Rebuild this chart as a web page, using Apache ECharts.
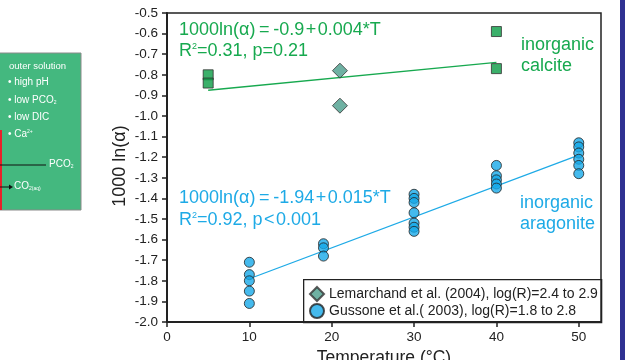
<!DOCTYPE html>
<html><head><meta charset="utf-8">
<script src="https://cdn.jsdelivr.net/npm/echarts@6/dist/echarts.min.js"></script>
<style>html,body{margin:0;padding:0;background:#fff}#c{width:627px;height:360px}</style>
</head><body><div id="c"></div>
<script>
// ---- data ----
const yTicks = [-2.0,-1.9,-1.8,-1.7,-1.6,-1.5,-1.4,-1.3,-1.2,-1.1,-1.0,-0.9,-0.8,-0.7,-0.6,-0.5];
const xTicks = [0,10,20,30,40,50];
const calciteT = [5,5,40,40];
const calciteV = [-0.80,-0.84,-0.59,-0.77];
const lemarchandT = [21,21];
const lemarchandV = [-0.78,-0.95];
const gussoneT = [10,10,10,10,10, 19,19,19, 30,30,30,30,30,30,30, 40,40,40,40,40, 50,50,50,50,50,50];
const gussoneV = [-1.71,-1.77,-1.80,-1.85,-1.91, -1.62,-1.64,-1.68, -1.38,-1.40,-1.42,-1.47,-1.52,-1.54,-1.56, -1.24,-1.29,-1.31,-1.33,-1.35, -1.13,-1.15,-1.18,-1.21,-1.24,-1.28];
const calciteFitT = [5,40];
const calciteFitV = [-0.875,-0.74];
const aragoniteFitT = [10,50];
const aragoniteFitV = [-1.79,-1.19];
const legendNames = ['Lemarchand et al. (2004), log(R)=2.4 to 2.9','Gussone et al.( 2003), log(R)=1.8 to 2.8'];

const zip = (a,b) => a.map((v,i)=>[v,b[i]]);
const GREEN = '#17a94f', BLUE = '#1eaae6';
const FONT = 'Liberation Sans, Arial, Helvetica, sans-serif';
const TS = '\u2009', HS = '\u200A';

const chart = echarts.init(document.getElementById('c'), null, {renderer:'canvas'});
const gl = 167, gt = 13, gr = 601, gb = 322;

function supText(base, sup, rest, color, size) {
  return {rich:{n:{fontSize:size, fontFamily:FONT, fill:color}, s:{fontSize:Math.round(size*0.5), fontFamily:FONT, fill:color, verticalAlign:'top', padding:[0,0,Math.round(size*0.5),0]}},
    text:'{n|'+base+'}{s|'+sup+'}{n|'+rest+'}'};
}
function subText(base, sub, color, size) {
  return {rich:{n:{fontSize:size, fontFamily:FONT, fill:color}, s:{fontSize:Math.round(size*0.5), fontFamily:FONT, fill:color, padding:[Math.round(size*0.45),0,0,0]}},
    text:'{n|'+base+'}{s|'+sub+'}'};
}

chart.setOption({
  animation:false,
  textStyle:{fontFamily:FONT},
  grid:{left:gl, top:gt, right:627-gr, bottom:360-gb, outerBoundsMode:'none', containLabel:false, show:true, borderColor:'#222', borderWidth:1.5, backgroundColor:'transparent'},
  xAxis:{type:'value', min:0, max:52.7, interval:10,
    axisLine:{onZero:false, lineStyle:{color:'#222', width:2}},
    axisTick:{show:true, length:5, lineStyle:{color:'#222', width:1.5}},
    axisLabel:{color:'#222', fontSize:13.5, margin:8, showMaxLabel:false, formatter:v=> xTicks.includes(v)? String(v):''},
    splitLine:{show:false},
    name:'Temperature (°C)', nameLocation:'middle', nameGap:24,
    nameTextStyle:{color:'#222', fontSize:17.5, fontFamily:FONT}
  },
  yAxis:{type:'value', min:-2.0, max:-0.5, interval:0.1,
    axisLine:{onZero:false, lineStyle:{color:'#222', width:2}},
    axisTick:{show:true, length:5, lineStyle:{color:'#222', width:1.5}},
    axisLabel:{color:'#222', fontSize:13.5, margin:9, formatter:v=>v.toFixed(1)},
    splitLine:{show:false}
  },
  legend:{show:true, orient:'vertical', left:309, top:286, padding:0, itemGap:1, itemWidth:14, itemHeight:14,
    data:legendNames, textStyle:{fontSize:14, color:'#222', fontFamily:FONT}, selectedMode:false},
  series:[
    {type:'line', data:zip(calciteFitT,calciteFitV), symbol:'none', lineStyle:{color:GREEN, width:1.3}, silent:true, z:2},
    {type:'line', data:zip(aragoniteFitT,aragoniteFitV), symbol:'none', lineStyle:{color:BLUE, width:1.3}, silent:true, z:2},
    {type:'scatter', name:'calcite', data:zip(calciteT,calciteV), symbol:'rect', symbolSize:10,
      itemStyle:{color:'#0a9c45', borderColor:'#333', borderWidth:1}, z:3},
    {type:'scatter', name:legendNames[0], data:zip(lemarchandT,lemarchandV), symbol:'diamond', symbolSize:[15,15],
      itemStyle:{color:'#4b9e8c', borderColor:'#333', borderWidth:1}, z:3},
    {type:'scatter', name:legendNames[1], data:zip(gussoneT,gussoneV), symbol:'circle', symbolSize:10,
      itemStyle:{color:'#16a9e8', borderColor:'#222', borderWidth:1}, z:3}
  ],
  graphic:[
    // legend box
    {type:'rect', left:303, top:279, shape:{width:298, height:43}, style:{fill:'#fff', stroke:'#222', lineWidth:1.3}, z:-1, silent:true},
    // annotations
    {type:'text', left:179, top:21, style:{text:'1000ln(α)'+TS+'='+TS+'-0.9'+HS+'+'+HS+'0.004*T', fill:GREEN, font:'18px '+FONT}},
    {type:'text', left:179, top:42, style:supText('R','2','='+'0.31, p=0.21',GREEN,18)},
    {type:'text', left:521, top:35, style:{text:'inorganic\ncalcite', fill:GREEN, font:'18px '+FONT, lineHeight:21}},
    {type:'text', left:179, top:189, style:{text:'1000ln(α)'+TS+'='+TS+'-1.94'+HS+'+'+HS+'0.015*T', fill:BLUE, font:'18px '+FONT}},
    {type:'text', left:179, top:211, style:supText('R','2','=0.92, p'+HS+'<'+HS+'0.001',BLUE,18)},
    {type:'text', left:520, top:193, style:{text:'inorganic\naragonite', fill:BLUE, font:'18px '+FONT, lineHeight:21}},
    // y axis name
    {type:'text', x:120, y:166, rotation:Math.PI/2, style:{text:'1000 ln(α)', fill:'#222', font:'18px '+FONT, align:'center', verticalAlign:'middle'}},
    // right blue bar
    {type:'rect', shape:{x:620, y:0, width:5, height:360}, style:{fill:'#2f3192'}, silent:true},
    // left diagram fragment
    {type:'rect', shape:{x:-2, y:53, width:83, height:157}, style:{fill:'#44b87f', stroke:'#8a8a8a', lineWidth:1}, silent:true},
    {type:'line', shape:{x1:1, y1:130, x2:1, y2:210}, style:{stroke:'#e8202a', lineWidth:2}, silent:true},
    {type:'text', left:9, top:61, style:{text:'outer solution', fill:'#fff', font:'9.5px '+FONT}},
    {type:'text', left:8, top:77, style:{text:'• high pH', fill:'#fff', font:'10px '+FONT}},
    {type:'text', left:8, top:95, style:subText('• low PCO','2','#fff',10)},
    {type:'text', left:8, top:112, style:{text:'• low DIC', fill:'#fff', font:'10px '+FONT}},
    {type:'text', left:8, top:129, style:supText('• Ca','2+','','#fff',10)},
    {type:'line', shape:{x1:0, y1:165, x2:46, y2:165}, style:{stroke:'#111', lineWidth:1}, silent:true},
    {type:'text', left:49, top:159, style:subText('PCO','2','#fff',10)},
    {type:'line', shape:{x1:0, y1:187, x2:10, y2:187}, style:{stroke:'#111', lineWidth:1}, silent:true},
    {type:'polygon', shape:{points:[[9,184.5],[13,187],[9,189.5]]}, style:{fill:'#111'}, silent:true},
    {type:'text', left:14, top:181, style:subText('CO','2(aq)','#fff',10)}
  ]
});
</script></body></html>
